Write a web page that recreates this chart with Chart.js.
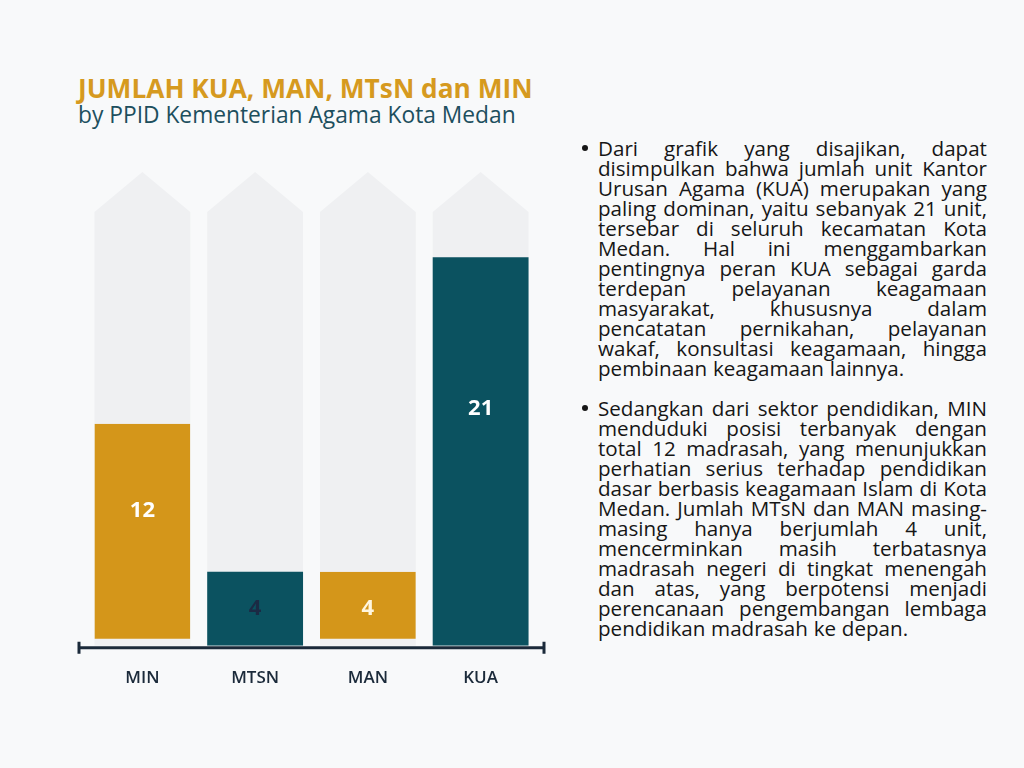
<!DOCTYPE html>
<html><head><meta charset="utf-8">
<script src="https://cdn.jsdelivr.net/npm/chart.js@4/dist/chart.umd.min.js"></script>
<style>
html,body{margin:0;padding:0;background:#f8f9fa;width:1024px;height:768px;overflow:hidden;font-family:'Open Sans',sans-serif;}
#chartBox{position:absolute;left:0;top:0;width:560px;height:744px;}
.fit{position:absolute;left:78px;white-space:nowrap;line-height:1;}
#title{font-weight:700;color:#d69a1f;}
#subtitle{font-weight:400;color:#1d4f5e;}
#notes{position:absolute;left:598px;top:138px;width:389px;color:#161616;}
.line{display:flex;justify-content:space-between;height:20px;line-height:20px;white-space:nowrap;}
.line.last{justify-content:flex-start;gap:0.28em;}
.para{position:relative;margin-bottom:20px;}
.para::before{content:"";position:absolute;left:-16px;top:7px;width:6px;height:6px;border-radius:50%;background:#161616;}
</style></head>
<body>
<div id="title" class="fit"></div>
<div id="subtitle" class="fit"></div>
<div id="chartBox"><canvas id="c"></canvas></div>
<div id="notes"></div>
<script>
const titleText = "JUMLAH KUA, MAN, MTsN dan MIN";
const subtitleText = "by PPID Kementerian Agama Kota Medan";
const categories = ["MIN", "MTSN", "MAN", "KUA"];
const values = [12, 4, 4, 21];
const yMax = 25.6;
const paragraph1 = [
 "Dari grafik yang disajikan, dapat",
 "disimpulkan bahwa jumlah unit Kantor",
 "Urusan Agama (KUA) merupakan yang",
 "paling dominan, yaitu sebanyak 21 unit,",
 "tersebar di seluruh kecamatan Kota",
 "Medan. Hal ini menggambarkan",
 "pentingnya peran KUA sebagai garda",
 "terdepan pelayanan keagamaan",
 "masyarakat, khususnya dalam",
 "pencatatan pernikahan, pelayanan",
 "wakaf, konsultasi keagamaan, hingga",
 "pembinaan keagamaan lainnya."
];
const paragraph2 = [
 "Sedangkan dari sektor pendidikan, MIN",
 "menduduki posisi terbanyak dengan",
 "total 12 madrasah, yang menunjukkan",
 "perhatian serius terhadap pendidikan",
 "dasar berbasis keagamaan Islam di Kota",
 "Medan. Jumlah MTsN dan MAN masing-",
 "masing hanya berjumlah 4 unit,",
 "mencerminkan masih terbatasnya",
 "madrasah negeri di tingkat menengah",
 "dan atas, yang berpotensi menjadi",
 "perencanaan pengembangan lembaga",
 "pendidikan madrasah ke depan."
];

// ---- text layout ----
function fitText(el, text, targetW, centerY){
  el.textContent = text;
  el.style.fontSize = '100px';
  const w = el.getBoundingClientRect().width;
  const fs = 100 * targetW / w;
  el.style.fontSize = fs + 'px';
  el.style.top = (centerY - fs*0.55) + 'px';
}
fitText(document.getElementById('title'), titleText, 455, 89);
fitText(document.getElementById('subtitle'), subtitleText, 438, 117);

const notes = document.getElementById('notes');
const meas = document.createElement('span');
meas.style.cssText = 'position:absolute;visibility:hidden;white-space:nowrap;font-size:100px;';
document.body.appendChild(meas);
let maxW = 0;
[...paragraph1, ...paragraph2].forEach(t => { meas.textContent = t; maxW = Math.max(maxW, meas.getBoundingClientRect().width); });
document.body.removeChild(meas);
const bodyFs = 100 * 386 / maxW;
notes.style.fontSize = bodyFs + 'px';
[paragraph1, paragraph2].forEach(p => {
  const pd = document.createElement('div'); pd.className = 'para';
  p.forEach((t, i) => {
    const ld = document.createElement('div');
    ld.className = 'line' + (i === p.length - 1 ? ' last' : '');
    t.split(' ').forEach(wd => { const s = document.createElement('span'); s.textContent = wd; ld.appendChild(s); });
    pd.appendChild(ld);
  });
  notes.appendChild(pd);
});

// ---- chart ----
const barColors = ['#d4961a', '#0b5260', '#d4961a', '#0b5260'];
const labelColors = ['#ffffff', '#1b2a44', '#fff6e0', '#ffffff'];

const trackPlugin = {
  id: 'tracks',
  beforeDatasetsDraw(chart){
    const ctx = chart.ctx, ys = chart.scales.y;
    const meta = chart.getDatasetMeta(0);
    const top = ys.getPixelForValue(yMax), bottom = ys.getPixelForValue(0);
    ctx.save();
    ctx.fillStyle = '#eff0f2';
    meta.data.forEach(el => {
      const hw = el.width/2, x = el.x;
      ctx.beginPath();
      ctx.moveTo(x-hw, bottom);
      ctx.lineTo(x-hw, top+40);
      ctx.lineTo(x, top);
      ctx.lineTo(x+hw, top+40);
      ctx.lineTo(x+hw, bottom);
      ctx.closePath();
      ctx.fill();
    });
    ctx.restore();
  },
  afterDatasetsDraw(chart){
    const ctx = chart.ctx, ca = chart.chartArea, ys = chart.scales.y;
    const meta = chart.getDatasetMeta(0);
    ctx.save();
    ctx.font = '700 22px "Open Sans", sans-serif';
    ctx.textAlign = 'center'; ctx.textBaseline = 'middle';
    meta.data.forEach((el, i) => {
      const h = el.base - el.y;
      const y = h < 110 ? el.y + h*0.5 : el.y + h*0.39;
      ctx.fillStyle = labelColors[i];
      ctx.fillText(String(values[i]), el.x, y);
    });
    const y0 = ys.getPixelForValue(0) + 2;
    ctx.strokeStyle = '#1b2a3a'; ctx.lineWidth = 3;
    ctx.beginPath();
    ctx.moveTo(ca.left - 8, y0); ctx.lineTo(ca.right + 8, y0);
    ctx.moveTo(ca.left - 7, y0 - 6); ctx.lineTo(ca.left - 7, y0 + 6);
    ctx.moveTo(ca.right + 7, y0 - 6); ctx.lineTo(ca.right + 7, y0 + 6);
    ctx.stroke();
    ctx.restore();
  }
};

new Chart(document.getElementById('c'), {
  type: 'bar',
  data: {
    labels: categories,
    datasets: [{
      data: values,
      backgroundColor: barColors,
      borderColor: 'rgba(0,0,0,0)',
      borderWidth: [{bottom:7,top:0,left:0,right:0}, 0, {bottom:7,top:0,left:0,right:0}, 0],
      borderSkipped: false,
      barPercentage: 0.85,
      categoryPercentage: 1.0
    }]
  },
  options: {
    responsive: true, maintainAspectRatio: false, animation: false,
    layout: { padding: { left: 86, right: 23, top: 172, bottom: 33.8 } },
    plugins: { legend: { display: false }, tooltip: { enabled: false } },
    scales: {
      x: {
        grid: { display: false, drawTicks: false }, border: { display: false },
        ticks: { padding: 22, color: '#1b2a3a', font: { family: '"Open Sans", sans-serif', size: 17, weight: '600' } }
      },
      y: { display: false, min: 0, max: yMax }
    }
  },
  plugins: [trackPlugin]
});
</script>
</body></html>
